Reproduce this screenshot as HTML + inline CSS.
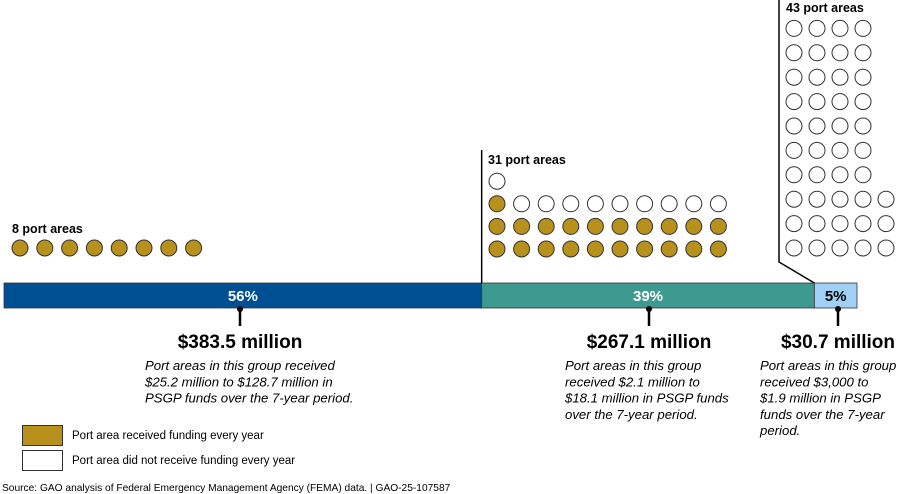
<!DOCTYPE html>
<html><head><meta charset="utf-8"><style>
html,body{margin:0;padding:0;background:#fff;}
svg{display:block;font-family:"Liberation Sans",sans-serif;}
</style></head><body>
<svg id="c" width="900" height="494" viewBox="0 0 900 494">
<g id="g"></g>
</svg>
<script>
const groupLabels = ["8 port areas","31 port areas","43 port areas"];
const sharePct = [56, 39, 5];
const amounts = ["$383.5 million","$267.1 million","$30.7 million"];
const fundedCounts = [8, 21, 0];
const totalCounts = [8, 31, 43];
const notes = [
 ["Port areas in this group received","$25.2 million to $128.7 million in","PSGP funds over the 7-year period."],
 ["Port areas in this group","received $2.1 million to","$18.1 million in PSGP funds","over the 7-year period."],
 ["Port areas in this group","received $3,000 to","$1.9 million in PSGP","funds over the 7-year","period."]
];
const NS="http://www.w3.org/2000/svg";
const g=document.getElementById('g');
function mk(t,a,txt){const e=document.createElementNS(NS,t);for(const k in a)e.setAttribute(k,a[k]);if(txt!==undefined)e.textContent=txt;g.appendChild(e);return e;}
const barX0=4, barX1=857, barY=283, barH=25;
const totalPct=sharePct.reduce((a,b)=>a+b,0);
const xs=v=>barX0+(barX1-barX0)*v/totalPct;
const segColors=["#004f93","#3e9a8f","#9fd0f5"];
const textColors=["#fff","#fff","#000"];
let cum=0; const segs=[];
sharePct.forEach((p,i)=>{
  const x0=xs(cum), x1=xs(cum+p); cum+=p; segs.push([x0,x1]);
  let r=mk('rect',{x:x0,y:barY,width:x1-x0,height:barH,fill:segColors[i],stroke:"#333","stroke-width":0.8});
  
  
  let t=mk('text',{x:(x0+x1)/2,y:barY+18,"text-anchor":"middle","font-size":15,"font-weight":"bold",fill:textColors[i]},p+"%");
  
  
});
let l1=mk('line',{x1:segs[1][0],y1:150,x2:segs[1][0],y2:barY,stroke:"#000","stroke-width":1.5});


let l2=mk('polyline',{points:`779,0 779,262 ${segs[2][0]},${barY}`,fill:"none",stroke:"#000","stroke-width":1.5});


const tickX=[240,649,838];
const noteX=[145,565,760];
tickX.forEach((x,i)=>{
  let ln=mk('line',{x1:x,y1:308,x2:x,y2:326,stroke:"#000","stroke-width":2.5});
  
  
  let c=mk('circle',{cx:x,cy:309,r:3,fill:"#000"});
  
  
  let t=mk('text',{x:x,y:348,"text-anchor":"middle","font-size":19,"font-weight":"bold",fill:"#000"},amounts[i]);
  
  
  notes[i].forEach((s,j)=>{
    let n=mk('text',{x:noteX[i],y:370+j*16.3,"font-size":13.2,"font-style":"italic",fill:"#000"},s);
    
    
  });
});
const gold="#b8901c";
function dot(cx,cy,f,name){let c=mk('circle',{cx:cx,cy:cy,r:8,fill:f?gold:"#fff",stroke:"#333","stroke-width":1});
  
  }
for(let k=0;k<totalCounts[0];k++) dot(20+k*24.8,248,k<fundedCounts[0],'port-dot-g1');
for(let k=0;k<totalCounts[1];k++){const row=Math.floor(k/10), col=k%10; dot(497+col*24.6,249-row*22.6,k<fundedCounts[1],'port-dot-g2');}
for(let k=0;k<totalCounts[2];k++){let row,col; if(k<15){row=Math.floor(k/5);col=k%5;}else{row=3+Math.floor((k-15)/4);col=(k-15)%4;} dot(794+col*23,248-row*24.4,k<fundedCounts[2],'port-dot-g3');}
const glx=[12,488,786], gly=[233,164,12];
groupLabels.forEach((s,i)=>{let t=mk('text',{x:glx[i],y:gly[i],"font-size":12.5,"font-weight":"bold",fill:"#000"},s);
  
  });
let r1=mk('rect',{x:22.5,y:425.5,width:40,height:20,fill:gold,stroke:"#333"});


let t1=mk('text',{x:72,y:439,"font-size":11.5,fill:"#000"},"Port area received funding every year");


let r2=mk('rect',{x:22.5,y:450.5,width:40,height:20,fill:"#fff",stroke:"#333"});


let t2=mk('text',{x:72,y:464,"font-size":11.5,fill:"#000"},"Port area did not receive funding every year");


let src=mk('text',{x:2,y:491,"font-size":10.2,fill:"#000","xml:space":"preserve"},"Source: GAO analysis of Federal Emergency Management Agency (FEMA) data.  |  GAO-25-107587");


</script>
</body></html>
